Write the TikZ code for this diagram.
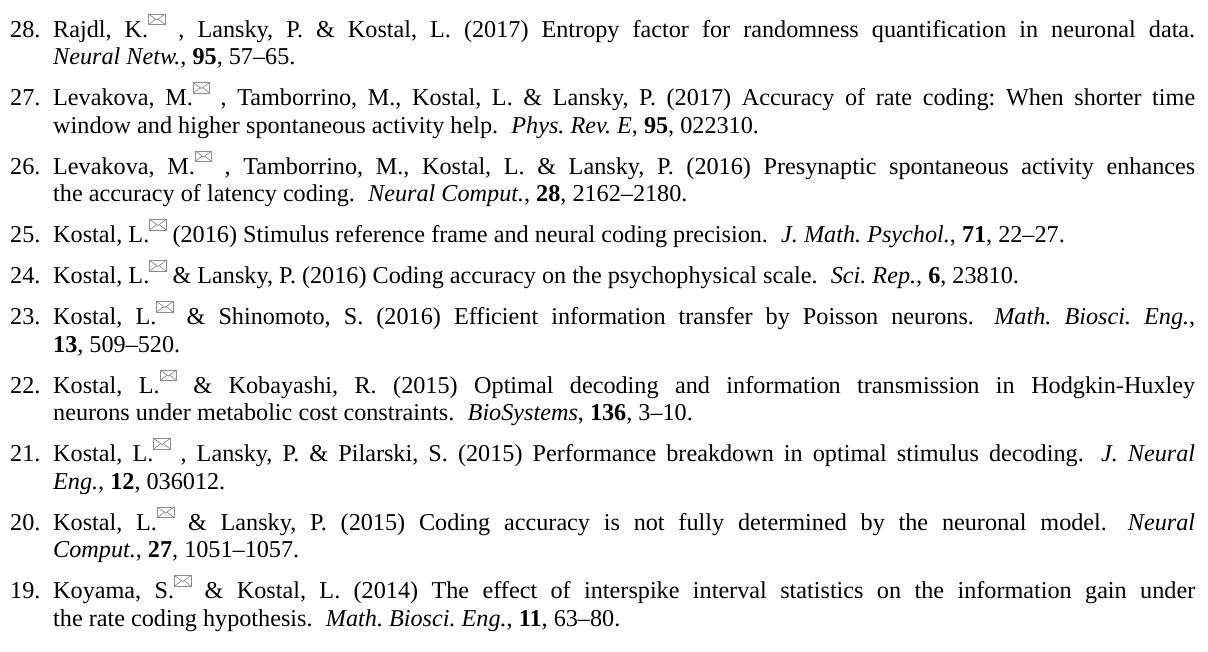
\documentclass[tikz,border=0pt]{standalone}
\usepackage{fontspec}
\setmainfont{Liberation Serif}
\definecolor{mailgray}{gray}{0.55}
\frenchspacing
% small envelope marking the corresponding author
\newcommand{\mailicon}{\tikz[baseline=0pt,x=1pt,y=1pt,line width=0.7pt]{%
  \draw[mailgray] (0.5,12.5) rectangle (17,23);
  \draw[mailgray] (0.5,23) -- (8.75,17) -- (17,23);
  \draw[mailgray] (0.5,12.5) -- (7.4,17.8) (17,12.5) -- (10.1,17.8);}}
% a full-width justified line of an entry
\newcommand{\jline}[1]{\makebox[1142pt][s]{#1}}
\newcommand{\sep}{\hspace{0.3em}}
\begin{document}
\begin{tikzpicture}[x=1pt,y=1pt,
  ref/.style={anchor=base west,inner sep=0pt,font=\fontsize{24.2}{27.5}\selectfont}]
\useasboundingbox[fill=white] (0,0) rectangle (1208,-651);
% 28
\node[ref] (n28) at (10,-37) {28.};
\node[ref] (r28a) at (53,-37) {\jline{Rajdl, K.\mailicon{} , Lansky, P. \& Kostal, L. (2017) Entropy factor for randomness quantification in neuronal data.}};
\node[ref] (r28b) at (53,-64.5) {\textit{Neural Netw.}, \textbf{95}, 57–65.};
% 27
\node[ref] (n27) at (10,-105.5) {27.};
\node[ref] (r27a) at (53,-105.5) {\jline{Levakova, M.\mailicon{} , Tamborrino, M., Kostal, L. \& Lansky, P. (2017) Accuracy of rate coding: When shorter time}};
\node[ref] (r27b) at (53,-133) {window and higher spontaneous activity help.\sep{} \textit{Phys. Rev. E}, \textbf{95}, 022310.};
% 26
\node[ref] (n26) at (10,-174) {26.};
\node[ref] (r26a) at (53,-174) {\jline{Levakova, M.\mailicon{} , Tamborrino, M., Kostal, L. \& Lansky, P. (2016) Presynaptic spontaneous activity enhances}};
\node[ref] (r26b) at (53,-201.5) {the accuracy of latency coding.\sep{} \textit{Neural Comput.}, \textbf{28}, 2162–2180.};
% 25
\node[ref] (n25) at (10,-242.5) {25.};
\node[ref] (r25a) at (53,-242.5) {Kostal, L.\mailicon{} (2016) Stimulus reference frame and neural coding precision.\sep{} \textit{J. Math. Psychol.}, \textbf{71}, 22–27.};
% 24
\node[ref] (n24) at (10,-283.5) {24.};
\node[ref] (r24a) at (53,-283.5) {Kostal, L.\mailicon{} \& Lansky, P. (2016) Coding accuracy on the psychophysical scale.\sep{} \textit{Sci. Rep.}, \textbf{6}, 23810.};
% 23
\node[ref] (n23) at (10,-324.5) {23.};
\node[ref] (r23a) at (53,-324.5) {\jline{Kostal, L.\mailicon{} \& Shinomoto, S. (2016) Efficient information transfer by Poisson neurons.\sep{} \textit{Math. Biosci. Eng.},}};
\node[ref] (r23b) at (53,-352) {\textbf{13}, 509–520.};
% 22
\node[ref] (n22) at (10,-393) {22.};
\node[ref] (r22a) at (53,-393) {\jline{Kostal, L.\mailicon{} \& Kobayashi, R. (2015) Optimal decoding and information transmission in Hodgkin-Huxley}};
\node[ref] (r22b) at (53,-420.5) {neurons under metabolic cost constraints.\sep{} \textit{BioSystems}, \textbf{136}, 3–10.};
% 21
\node[ref] (n21) at (10,-461.5) {21.};
\node[ref] (r21a) at (53,-461.5) {\jline{Kostal, L.\mailicon{} , Lansky, P. \& Pilarski, S. (2015) Performance breakdown in optimal stimulus decoding.\sep{} \textit{J. Neural}}};
\node[ref] (r21b) at (53,-489) {\textit{Eng.}, \textbf{12}, 036012.};
% 20
\node[ref] (n20) at (10,-530) {20.};
\node[ref] (r20a) at (53,-530) {\jline{Kostal, L.\mailicon{} \& Lansky, P. (2015) Coding accuracy is not fully determined by the neuronal model.\sep{} \textit{Neural}}};
\node[ref] (r20b) at (53,-557.5) {\textit{Comput.}, \textbf{27}, 1051–1057.};
% 19
\node[ref] (n19) at (10,-598.5) {19.};
\node[ref] (r19a) at (53,-598.5) {\jline{Koyama, S.\mailicon{} \& Kostal, L. (2014) The effect of interspike interval statistics on the information gain under}};
\node[ref] (r19b) at (53,-626) {the rate coding hypothesis.\sep{} \textit{Math. Biosci. Eng.}, \textbf{11}, 63–80.};
\end{tikzpicture}
\end{document}
